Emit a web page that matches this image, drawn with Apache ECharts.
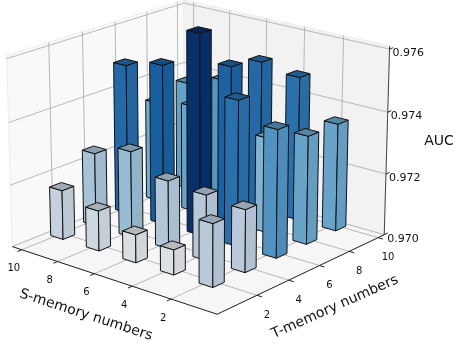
<!DOCTYPE html>
<html lang="en">
<head>
    <meta charset="UTF-8">
    <title>AUC bars</title>
    <script src="https://cdn.jsdelivr.net/npm/echarts@6/dist/echarts.min.js"></script>
    <style>html,body{margin:0;padding:0;background:#fff}</style>
</head>
<body>
<div id="main" style="width:456px;height:345px;"></div>
<script type="text/javascript">
    // chart data
    var sTicks = [2, 4, 6, 8, 10];
    var tTicks = [2, 4, 6, 8, 10];
    var zTicks = [0.970, 0.972, 0.974, 0.976];
    var aucT2 = [0.9720, 0.9708, 0.9709, 0.9713, 0.9716];
    var aucT4 = [0.9720, 0.9721, 0.9722, 0.9728, 0.9724];
    var aucT6 = [0.9741, 0.9747, 0.9765, 0.9752, 0.9749];
    var aucT8 = [0.9735, 0.9731, 0.9751, 0.9735, 0.9733];
    var aucT10 = [0.9735, 0.9747, 0.9749, 0.9740, 0.9736];
    var aucRows = [aucT2, aucT4, aucT6, aucT8, aucT10];
    var rampValues = [0.9708, 0.9720, 0.9728, 0.9735, 0.9740, 0.9742, 0.9747, 0.9752, 0.9765];
    var rampColors = ['#dde1e5', '#b9c9da', '#98bcd3', '#68a4c9', '#5597c3', '#4a8cbc', '#2a70ad', '#185f9f', '#08306b'];

    // view, same idea as a mplot3d camera
    var azim = -140 * Math.PI / 180, elev = 19 * Math.PI / 180, dist = 10;
    var boxXY = 1.1905, boxZ = 0.8929;
    var tLim = [-0.416, 10.434], sLim = [-0.30, 10.54], zLim = [0.970, 0.9761];
    var barStart = -0.5, barWidth = 0.7;
    var scaleK = 2250, originX = 199.5, originY = 147;

    var w = [Math.cos(elev) * Math.cos(azim), Math.cos(elev) * Math.sin(azim), Math.sin(elev)];
    var uLen = Math.sqrt(w[0] * w[0] + w[1] * w[1]);
    var u = [-w[1] / uLen, w[0] / uLen, 0];
    var v = [w[1] * u[2] - w[2] * u[1], w[2] * u[0] - w[0] * u[2], w[0] * u[1] - w[1] * u[0]];

    function toBox(t, s, z) {
        return [
            ((t - tLim[0]) / (tLim[1] - tLim[0]) - 0.5) * boxXY - dist * w[0],
            ((s - sLim[0]) / (sLim[1] - sLim[0]) - 0.5) * boxXY - dist * w[1],
            ((z - zLim[0]) / (zLim[1] - zLim[0]) - 0.5) * boxZ - dist * w[2]
        ];
    }
    function dot(a, b) { return a[0] * b[0] + a[1] * b[1] + a[2] * b[2]; }
    function project(t, s, z) {
        var p = toBox(t, s, z);
        var d = -dot(p, w);
        return [dot(p, u) / d, dot(p, v) / d];
    }
    function depth(t, s, z) {
        return -dot(toBox(t, s, z), w);
    }

    function barColor(val) {
        if (val <= rampValues[0]) return rampColors[0];
        for (var i = 1; i < rampValues.length; i++) {
            if (val <= rampValues[i]) {
                var f = (val - rampValues[i - 1]) / (rampValues[i] - rampValues[i - 1]);
                return echarts.color.lerp(f, [rampColors[i - 1], rampColors[i]]);
            }
        }
        return rampColors[rampColors.length - 1];
    }
    function shade(col, f) {
        var c = echarts.color.parse(col);
        return 'rgb(' + Math.round(c[0] * f) + ',' + Math.round(c[1] * f) + ',' + Math.round(c[2] * f) + ')';
    }

    // bars from back to front
    var barData = [];
    for (var r = 0; r < tTicks.length; r++) {
        for (var c = 0; c < sTicks.length; c++) {
            barData.push([tTicks[r], sTicks[c], aucRows[r][c]]);
        }
    }
    barData.sort(function (a, b) {
        return depth(b[0], b[1], zLim[0]) - depth(a[0], a[1], zLim[0]);
    });

    function renderBar(params, api) {
        var t0 = api.value(0) + barStart, s0 = api.value(1) + barStart;
        var t1 = t0 + barWidth, s1 = s0 + barWidth;
        var val = api.value(2), col = barColor(val);
        function pt(t, s, z) { return api.coord(project(t, s, z)); }
        function face(points, fill) {
            return {
                type: 'polygon',
                shape: {points: points},
                style: {fill: fill, stroke: '#111', lineWidth: 1, lineJoin: 'round'}
            };
        }
        return {
            type: 'group',
            children: [
                face([pt(t0, s0, zLim[0]), pt(t0, s1, zLim[0]), pt(t0, s1, val), pt(t0, s0, val)], shade(col, 1)),
                face([pt(t0, s0, zLim[0]), pt(t1, s0, zLim[0]), pt(t1, s0, val), pt(t0, s0, val)], shade(col, 0.96)),
                face([pt(t0, s0, val), pt(t1, s0, val), pt(t1, s1, val), pt(t0, s1, val)], shade(col, 0.82))
            ]
        };
    }

    function renderFrame(params, api) {
        var kids = [];
        function pt(t, s, z) { return api.coord(project(t, s, z)); }
        function line(a, b, color, width) {
            kids.push({type: 'line', shape: {x1: a[0], y1: a[1], x2: b[0], y2: b[1]},
                style: {stroke: color, lineWidth: width}});
        }
        function pane(points, fill) {
            kids.push({type: 'polygon', shape: {points: points}, style: {fill: fill, stroke: '#ededed', lineWidth: 1}});
        }
        function label(text, x, y, size, align, rotation) {
            kids.push({type: 'text', x: x, y: y, rotation: rotation || 0,
                style: {text: text, fill: '#111', fontSize: size, fontFamily: '"DejaVu Sans"',
                    textAlign: align, textVerticalAlign: 'middle'}});
        }
        var t0 = tLim[0], t1 = tLim[1], s0 = sLim[0], s1 = sLim[1], z0 = zLim[0], z1 = zLim[1];
        pane([pt(t0, s1, z0), pt(t1, s1, z0), pt(t1, s1, z1), pt(t0, s1, z1)], '#f9f9f9');
        pane([pt(t1, s1, z0), pt(t1, s0, z0), pt(t1, s0, z1), pt(t1, s1, z1)], '#f2f2f2');
        pane([pt(t0, s0, z0), pt(t1, s0, z0), pt(t1, s1, z0), pt(t0, s1, z0)], '#f6f6f6');
        var grid = '#b0b0b0';
        tTicks.forEach(function (tk) {
            line(pt(tk, s0, z0), pt(tk, s1, z0), grid, 0.9);
            line(pt(tk, s1, z0), pt(tk, s1, z1), grid, 0.9);
        });
        sTicks.forEach(function (sk) {
            line(pt(t0, sk, z0), pt(t1, sk, z0), grid, 0.9);
            line(pt(t1, sk, z0), pt(t1, sk, z1), grid, 0.9);
        });
        zTicks.forEach(function (zk) {
            line(pt(t0, s1, zk), pt(t1, s1, zk), grid, 0.9);
            line(pt(t1, s1, zk), pt(t1, s0, zk), grid, 0.9);
        });
        // axis lines and ticks
        line(pt(t0, s0, z0), pt(t0, s1, z0), '#222', 1);
        line(pt(t0, s0, z0), pt(t1, s0, z0), '#222', 1);
        line(pt(t1, s0, z0), pt(t1, s0, z1), '#444', 1);
        sTicks.forEach(function (sk) {
            var a = pt(t0, sk, z0), b = pt(t0 - 0.25, sk, z0);
            line(a, b, '#222', 1);
            label(String(sk), a[0] - 8, a[1] + 19, 10, 'center');
        });
        tTicks.forEach(function (tk) {
            var a = pt(tk, s0, z0), b = pt(tk, s0 - 0.25, z0);
            line(a, b, '#222', 1);
            label(String(tk), a[0] + 10, a[1] + 20, 10, 'center');
        });
        zTicks.forEach(function (zk) {
            var a = pt(t1, s0, zk), b = pt(t1 + 0.25, s0, zk);
            line(a, b, '#222', 1);
            label(zk.toFixed(3), a[0] + 3, a[1] + 4, 11, 'left');
        });
        label('S-memory numbers', 86, 315, 14, 'center', -18 * Math.PI / 180);
        label('T-memory numbers', 335, 307, 14, 'center', 24 * Math.PI / 180);
        label('AUC', 439, 141, 14, 'center');
        return {type: 'group', children: kids};
    }

    var myChart = echarts.init(document.getElementById('main'));
    var xSpan = [(0 - originX) / scaleK, (456 - originX) / scaleK];
    var ySpan = [(originY - 345) / scaleK, originY / scaleK];
    var option = {
        animation: false,
        backgroundColor: '#fff',
        grid: {left: 0, right: 0, top: 0, bottom: 0},
        xAxis: {type: 'value', min: xSpan[0], max: xSpan[1], show: false},
        yAxis: {type: 'value', min: ySpan[0], max: ySpan[1], show: false},
        series: [
            {type: 'custom', coordinateSystem: 'cartesian2d', renderItem: renderFrame, data: [[0, 0]], silent: true, clip: false},
            {type: 'custom', coordinateSystem: 'cartesian2d', renderItem: renderBar, data: barData, silent: true, clip: false,
                encode: {x: 0, y: 1}}
        ]
    };
    myChart.setOption(option);
</script>
</body>
</html>
